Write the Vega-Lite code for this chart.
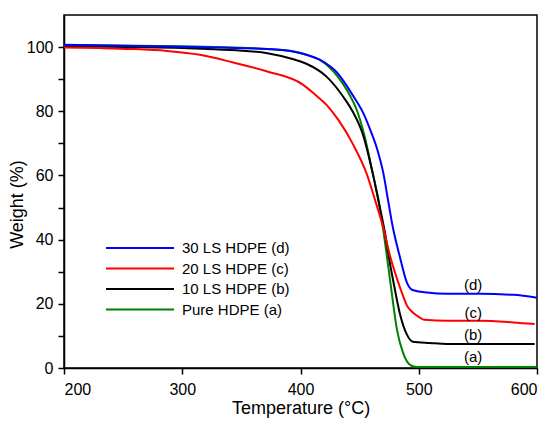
{
  "$schema": "https://vega.github.io/schema/vega-lite/v6.json",
  "width": 473,
  "height": 353,
  "autosize": {"type": "none"},
  "padding": {"left": 64, "top": 15, "right": 16, "bottom": 53},
  "background": "white",
  "config": {
    "font": "Liberation Sans",
    "view": {"stroke": "black", "strokeWidth": 1.5},
    "axis": {
      "grid": false,
      "domainColor": "black",
      "domainWidth": 1.5,
      "tickColor": "black",
      "tickWidth": 1.5,
      "tickSize": 6,
      "labelFont": "Liberation Sans",
      "labelFontSize": 16,
      "labelColor": "black",
      "titleFont": "Liberation Sans",
      "titleFontSize": 18,
      "titleFontWeight": "normal",
      "titleColor": "black"
    }
  },
  "datasets": {
    "curves": [
      {"sample": "Pure HDPE (a)", "T": 200, "W": 100.6},
      {"sample": "Pure HDPE (a)", "T": 300, "W": 100.3},
      {"sample": "Pure HDPE (a)", "T": 372, "W": 99.4},
      {"sample": "Pure HDPE (a)", "T": 394, "W": 98.6},
      {"sample": "Pure HDPE (a)", "T": 405, "W": 97.6},
      {"sample": "Pure HDPE (a)", "T": 416.5, "W": 96.0},
      {"sample": "Pure HDPE (a)", "T": 431, "W": 91.0},
      {"sample": "Pure HDPE (a)", "T": 439, "W": 86.7},
      {"sample": "Pure HDPE (a)", "T": 448, "W": 80.0},
      {"sample": "Pure HDPE (a)", "T": 454, "W": 72.5},
      {"sample": "Pure HDPE (a)", "T": 461, "W": 60.8},
      {"sample": "Pure HDPE (a)", "T": 467, "W": 50.2},
      {"sample": "Pure HDPE (a)", "T": 473, "W": 35.0},
      {"sample": "Pure HDPE (a)", "T": 476.5, "W": 25.3},
      {"sample": "Pure HDPE (a)", "T": 481.6, "W": 11.9},
      {"sample": "Pure HDPE (a)", "T": 486.7, "W": 4.8},
      {"sample": "Pure HDPE (a)", "T": 492.6, "W": 1.0},
      {"sample": "Pure HDPE (a)", "T": 498.5, "W": 0.3},
      {"sample": "Pure HDPE (a)", "T": 550, "W": 0.3},
      {"sample": "Pure HDPE (a)", "T": 600, "W": 0.3},

      {"sample": "10 LS HDPE (b)", "T": 200, "W": 100.3},
      {"sample": "10 LS HDPE (b)", "T": 250, "W": 100.0},
      {"sample": "10 LS HDPE (b)", "T": 300, "W": 99.7},
      {"sample": "10 LS HDPE (b)", "T": 327, "W": 99.3},
      {"sample": "10 LS HDPE (b)", "T": 354, "W": 98.8},
      {"sample": "10 LS HDPE (b)", "T": 372, "W": 98.1},
      {"sample": "10 LS HDPE (b)", "T": 394, "W": 96.2},
      {"sample": "10 LS HDPE (b)", "T": 405, "W": 94.8},
      {"sample": "10 LS HDPE (b)", "T": 422, "W": 90.8},
      {"sample": "10 LS HDPE (b)", "T": 436, "W": 84.6},
      {"sample": "10 LS HDPE (b)", "T": 444, "W": 80.0},
      {"sample": "10 LS HDPE (b)", "T": 453, "W": 72.5},
      {"sample": "10 LS HDPE (b)", "T": 461, "W": 60.8},
      {"sample": "10 LS HDPE (b)", "T": 467, "W": 50.2},
      {"sample": "10 LS HDPE (b)", "T": 471.5, "W": 42.0},
      {"sample": "10 LS HDPE (b)", "T": 475, "W": 34.0},
      {"sample": "10 LS HDPE (b)", "T": 479, "W": 26.0},
      {"sample": "10 LS HDPE (b)", "T": 484, "W": 17.0},
      {"sample": "10 LS HDPE (b)", "T": 490, "W": 10.4},
      {"sample": "10 LS HDPE (b)", "T": 495, "W": 8.2},
      {"sample": "10 LS HDPE (b)", "T": 509.5, "W": 7.8},
      {"sample": "10 LS HDPE (b)", "T": 524, "W": 7.5},
      {"sample": "10 LS HDPE (b)", "T": 598, "W": 7.5},

      {"sample": "20 LS HDPE (c)", "T": 200, "W": 99.9},
      {"sample": "20 LS HDPE (c)", "T": 230, "W": 99.7},
      {"sample": "20 LS HDPE (c)", "T": 258, "W": 99.4},
      {"sample": "20 LS HDPE (c)", "T": 287, "W": 98.8},
      {"sample": "20 LS HDPE (c)", "T": 315, "W": 97.6},
      {"sample": "20 LS HDPE (c)", "T": 343, "W": 95.2},
      {"sample": "20 LS HDPE (c)", "T": 372, "W": 92.4},
      {"sample": "20 LS HDPE (c)", "T": 402, "W": 88.3},
      {"sample": "20 LS HDPE (c)", "T": 412, "W": 85.3},
      {"sample": "20 LS HDPE (c)", "T": 422, "W": 82.0},
      {"sample": "20 LS HDPE (c)", "T": 432, "W": 77.3},
      {"sample": "20 LS HDPE (c)", "T": 444, "W": 70.0},
      {"sample": "20 LS HDPE (c)", "T": 456, "W": 60.5},
      {"sample": "20 LS HDPE (c)", "T": 463, "W": 52.4},
      {"sample": "20 LS HDPE (c)", "T": 469.8, "W": 44.0},
      {"sample": "20 LS HDPE (c)", "T": 475.7, "W": 35.0},
      {"sample": "20 LS HDPE (c)", "T": 481, "W": 28.5},
      {"sample": "20 LS HDPE (c)", "T": 486.7, "W": 22.5},
      {"sample": "20 LS HDPE (c)", "T": 490, "W": 19.5},
      {"sample": "20 LS HDPE (c)", "T": 493, "W": 18.0},
      {"sample": "20 LS HDPE (c)", "T": 498.5, "W": 16.3},
      {"sample": "20 LS HDPE (c)", "T": 505, "W": 15.0},
      {"sample": "20 LS HDPE (c)", "T": 524, "W": 14.7},
      {"sample": "20 LS HDPE (c)", "T": 552, "W": 14.7},
      {"sample": "20 LS HDPE (c)", "T": 580, "W": 14.2},
      {"sample": "20 LS HDPE (c)", "T": 598, "W": 13.7},

      {"sample": "30 LS HDPE (d)", "T": 200, "W": 100.7},
      {"sample": "30 LS HDPE (d)", "T": 285, "W": 100.2},
      {"sample": "30 LS HDPE (d)", "T": 372, "W": 99.4},
      {"sample": "30 LS HDPE (d)", "T": 394, "W": 98.6},
      {"sample": "30 LS HDPE (d)", "T": 405, "W": 97.6},
      {"sample": "30 LS HDPE (d)", "T": 416.5, "W": 96.0},
      {"sample": "30 LS HDPE (d)", "T": 431, "W": 92.0},
      {"sample": "30 LS HDPE (d)", "T": 444, "W": 85.1},
      {"sample": "30 LS HDPE (d)", "T": 453, "W": 79.5},
      {"sample": "30 LS HDPE (d)", "T": 459, "W": 74.2},
      {"sample": "30 LS HDPE (d)", "T": 465, "W": 68.0},
      {"sample": "30 LS HDPE (d)", "T": 470, "W": 60.8},
      {"sample": "30 LS HDPE (d)", "T": 474, "W": 52.4},
      {"sample": "30 LS HDPE (d)", "T": 478, "W": 44.0},
      {"sample": "30 LS HDPE (d)", "T": 484, "W": 34.7},
      {"sample": "30 LS HDPE (d)", "T": 490, "W": 26.6},
      {"sample": "30 LS HDPE (d)", "T": 494.3, "W": 24.4},
      {"sample": "30 LS HDPE (d)", "T": 507, "W": 23.5},
      {"sample": "30 LS HDPE (d)", "T": 524, "W": 23.1},
      {"sample": "30 LS HDPE (d)", "T": 552, "W": 23.1},
      {"sample": "30 LS HDPE (d)", "T": 580, "W": 22.8},
      {"sample": "30 LS HDPE (d)", "T": 600, "W": 21.9}
    ],
    "labels": [
      {"label": "(d)", "T": 546, "W": 26.0},
      {"label": "(c)", "T": 546, "W": 17.2},
      {"label": "(b)", "T": 546, "W": 10.4},
      {"label": "(a)", "T": 546, "W": 3.5}
    ]
  },
  "encoding": {
    "x": {
      "field": "T",
      "type": "quantitative",
      "scale": {"domain": [200, 600], "nice": false, "zero": false},
      "axis": {
        "values": [200, 300, 400, 500, 600],
        "title": "Temperature (°C)",
        "labelBaseline": "alphabetic",
        "labelPadding": 20,
        "titleBaseline": "alphabetic",
        "titleY": 45
      }
    },
    "y": {
      "field": "W",
      "type": "quantitative",
      "scale": {"domain": [0, 110], "nice": false},
      "axis": {
        "values": [0, 10, 20, 30, 40, 50, 60, 70, 80, 90, 100],
        "labelExpr": "datum.value % 20 == 0 ? datum.label : ''",
        "labelPadding": 5,
        "title": "Weight (%)",
        "titleX": -47,
        "titleY": 189,
        "titleBaseline": "middle"
      }
    }
  },
  "layer": [
    {
      "data": {"name": "curves"},
      "transform": [{"filter": "datum.sample == 'Pure HDPE (a)'"}],
      "mark": {"type": "line", "strokeWidth": 2, "clip": true, "interpolate": "monotone"},
      "encoding": {
        "color": {
          "field": "sample",
          "type": "nominal",
          "scale": {
            "domain": ["30 LS HDPE (d)", "20 LS HDPE (c)", "10 LS HDPE (b)", "Pure HDPE (a)"],
            "range": ["#0000ff", "#ff0000", "#000000", "#008000"]
          },
          "legend": {
            "orient": "none",
            "legendX": 66.5,
            "legendY": 223.5,
            "title": null,
            "padding": 0,
            "symbolType": "M-4,0H4",
            "symbolSize": 289,
            "symbolStrokeWidth": 2,
            "labelFont": "Liberation Sans",
            "labelFontSize": 15,
            "labelColor": "black",
            "labelOffset": 32.5,
            "rowPadding": 2.5
          }
        }
      }
    },
    {
      "data": {"name": "curves"},
      "transform": [{"filter": "datum.sample == '10 LS HDPE (b)'"}],
      "mark": {"type": "line", "strokeWidth": 2, "clip": true, "interpolate": "monotone"},
      "encoding": {"color": {"field": "sample", "type": "nominal"}}
    },
    {
      "data": {"name": "curves"},
      "transform": [{"filter": "datum.sample == '20 LS HDPE (c)'"}],
      "mark": {"type": "line", "strokeWidth": 2, "clip": true, "interpolate": "monotone"},
      "encoding": {"color": {"field": "sample", "type": "nominal"}}
    },
    {
      "data": {"name": "curves"},
      "transform": [{"filter": "datum.sample == '30 LS HDPE (d)'"}],
      "mark": {"type": "line", "strokeWidth": 2, "clip": true, "interpolate": "monotone"},
      "encoding": {"color": {"field": "sample", "type": "nominal"}}
    },
    {
      "data": {"name": "labels"},
      "mark": {"type": "text", "fontSize": 15, "font": "Liberation Sans", "color": "black"},
      "encoding": {
        "text": {"field": "label"}
      }
    }
  ]
}
